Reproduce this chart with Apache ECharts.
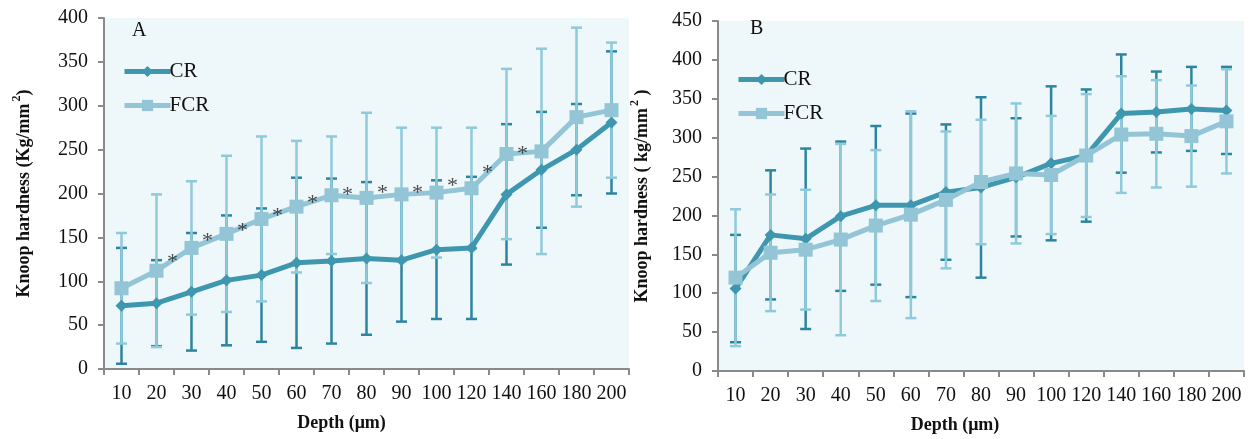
<!DOCTYPE html>
<html>
<head>
<meta charset="utf-8">
<script src="https://cdn.jsdelivr.net/npm/echarts@6/dist/echarts.min.js"></script>
<style>
  html, body { margin: 0; padding: 0; background: #fff; }
  #chart { width: 1252px; height: 439px; }
</style>
</head>
<body>
<div id="chart"></div>
<script>
// depth categories (µm)
const cats = ['10', '20', '30', '40', '50', '60', '70', '80', '90', '100', '120', '140', '160', '180', '200'];

// panel A
const crA = [72, 75, 88, 101, 107, 121, 123, 126, 124, 136, 138, 199, 227, 250, 281];
const crAErr = [66, 49, 67, 74, 76, 97, 94, 87, 70, 79, 81, 80, 66, 52, 81];
const fcrA = [92, 112, 138, 154, 171, 185, 198, 195, 199, 201, 206, 245, 248, 287, 295];
const fcrAErr = [63, 87, 76, 89, 94, 75, 67, 97, 76, 74, 69, 97, 117, 102, 77];
// height of the significance stars (*), '-' = none
const sigA = ['-', 129, 153, 164, 181, 196, 205, 207, 207, 215, 230, 252, '-', '-', '-'];

// panel B
const crB = [106, 175, 170, 199, 213, 213, 230, 236, 249, 267, 277, 331, 333, 337, 335];
const crBErr = [69, 83, 116, 96, 102, 118, 87, 116, 76, 99, 85, 76, 52, 54, 56];
const fcrB = [120, 152, 156, 169, 187, 201, 220, 243, 254, 252, 277, 304, 305, 302, 321];
const fcrBErr = [88, 75, 77, 123, 97, 133, 88, 80, 90, 76, 79, 75, 69, 65, 67];

const FONT = 'Liberation Serif';
const crColor = '#3e97ae';
const crBarColor = '#2c85a0';
const fcrColor = '#93c5d6';
const fcrBarColor = '#8fcadb';
const axisColor = '#8a8a8a';

const chart = echarts.init(document.getElementById('chart'));

function errData(mean, err) {
    return mean.map((m, i) => [i, m - err[i], m + err[i]]);
}

function errSeries(name, idx, mean, err, color) {
    return {
        name: name,
        type: 'custom',
        xAxisIndex: idx,
        yAxisIndex: idx,
        silent: true,
        z: 1,
        data: errData(mean, err),
        renderItem: function (params, api) {
            const top = api.coord([api.value(0), api.value(2)]);
            const bot = api.coord([api.value(0), api.value(1)]);
            const hw = 5.5;
            const st = { stroke: color, lineWidth: 2.5 };
            return {
                type: 'group',
                children: [
                    { type: 'line', shape: { x1: top[0], y1: top[1], x2: bot[0], y2: bot[1] }, style: st },
                    { type: 'line', shape: { x1: top[0] - hw, y1: top[1], x2: top[0] + hw, y2: top[1] }, style: st },
                    { type: 'line', shape: { x1: bot[0] - hw, y1: bot[1], x2: bot[0] + hw, y2: bot[1] }, style: st }
                ]
            };
        }
    };
}

function lineSeries(name, idx, data, color, symbol, size, z) {
    return {
        name: name,
        type: 'line',
        xAxisIndex: idx,
        yAxisIndex: idx,
        data: data,
        symbol: symbol,
        symbolSize: size,
        z: z,
        lineStyle: { color: color, width: 5 },
        itemStyle: { color: color },
        emphasis: { disabled: true }
    };
}

function xAx(idx, shift) {
    return {
        type: 'category',
        gridIndex: idx,
        data: cats,
        boundaryGap: true,
        axisLine: { lineStyle: { color: axisColor, width: 2 } },
        axisTick: { show: true, length: 6, lineStyle: { color: axisColor, width: 2 } },
        axisLabel: { color: '#111', fontFamily: FONT, fontSize: 20, margin: 15, interval: 0 },
        name: 'Depth (\u03bcm)',
        nameLocation: 'middle',
        nameGap: 45,
        nameTextStyle: { color: '#111', fontFamily: FONT, fontSize: 18, fontWeight: 'bold', padding: [0, shift, 0, 0] }
    };
}

function yAx(idx, max, name, gap) {
    return {
        type: 'value',
        gridIndex: idx,
        min: 0,
        max: max,
        interval: 50,
        splitLine: { show: false },
        axisLine: { show: true, lineStyle: { color: axisColor, width: 2 } },
        axisTick: { show: true, length: 6, lineStyle: { color: axisColor, width: 2 } },
        axisLabel: { color: '#111', fontFamily: FONT, fontSize: 20, margin: 16 },
        name: name,
        nameLocation: 'middle',
        nameGap: gap,
        nameTextStyle: {
            color: '#111', fontFamily: FONT, fontSize: 18, fontWeight: 'bold',
            rich: { sup: { fontFamily: FONT, fontSize: 12, fontWeight: 'bold', color: '#111', verticalAlign: 'top', padding: [0, 0, 14, 2] } }
        }
    };
}

function legendAt(left, top) {
    return {
        orient: 'vertical',
        left: left,
        top: top,
        itemWidth: 46,
        itemHeight: 14,
        itemGap: 13,
        selectedMode: false,
        data: ['CR', 'FCR'],
        lineStyle: { width: 5 },
        textStyle: { color: '#111', fontFamily: FONT, fontSize: 21, padding: [0, 0, 0, -6] }
    };
}

const option = {
    animation: false,
    backgroundColor: '#ffffff',
    title: [
        { text: 'A', left: 127, top: 16, textStyle: { fontFamily: FONT, fontSize: 20, fontWeight: 'normal', color: '#111' } },
        { text: 'B', left: 745, top: 14, textStyle: { fontFamily: FONT, fontSize: 20, fontWeight: 'normal', color: '#111' } }
    ],
    legend: [legendAt(117, 56), legendAt(731, 64)],
    grid: [
        { left: 104, top: 18, width: 525, height: 351, show: true, backgroundColor: '#eef7fa', borderWidth: 0 },
        { left: 718, top: 21, width: 526, height: 351, show: true, backgroundColor: '#eef7fa', borderWidth: 0 }
    ],
    xAxis: [xAx(0, 50), xAx(1, 52)],
    yAxis: [
        yAx(0, 400, 'Knoop hardness (Kg/mm{sup|2})', 67),
        yAx(1, 450, 'Knoop hardness ( kg/mm{sup|2} )', 63)
    ],
    series: [
        errSeries('CR err A', 0, crA, crAErr, crBarColor),
        errSeries('FCR err A', 0, fcrA, fcrAErr, fcrBarColor),
        lineSeries('CR', 0, crA, crColor, 'diamond', 12, 3),
        lineSeries('FCR', 0, fcrA, fcrColor, 'rect', 14, 4),
        {
            name: 'sig',
            type: 'scatter',
            xAxisIndex: 0,
            yAxisIndex: 0,
            data: sigA,
            symbolSize: 1,
            silent: true,
            z: 5,
            itemStyle: { color: 'rgba(0,0,0,0)' },
            label: {
                show: true,
                formatter: '*',
                position: 'inside',
                offset: [16, 6],
                color: '#222',
                fontFamily: FONT,
                fontSize: 22
            }
        },
        errSeries('CR err B', 1, crB, crBErr, crBarColor),
        errSeries('FCR err B', 1, fcrB, fcrBErr, fcrBarColor),
        lineSeries('CR', 1, crB, crColor, 'diamond', 12, 3),
        lineSeries('FCR', 1, fcrB, fcrColor, 'rect', 14, 4)
    ]
};

chart.setOption(option);
</script>
</body>
</html>
